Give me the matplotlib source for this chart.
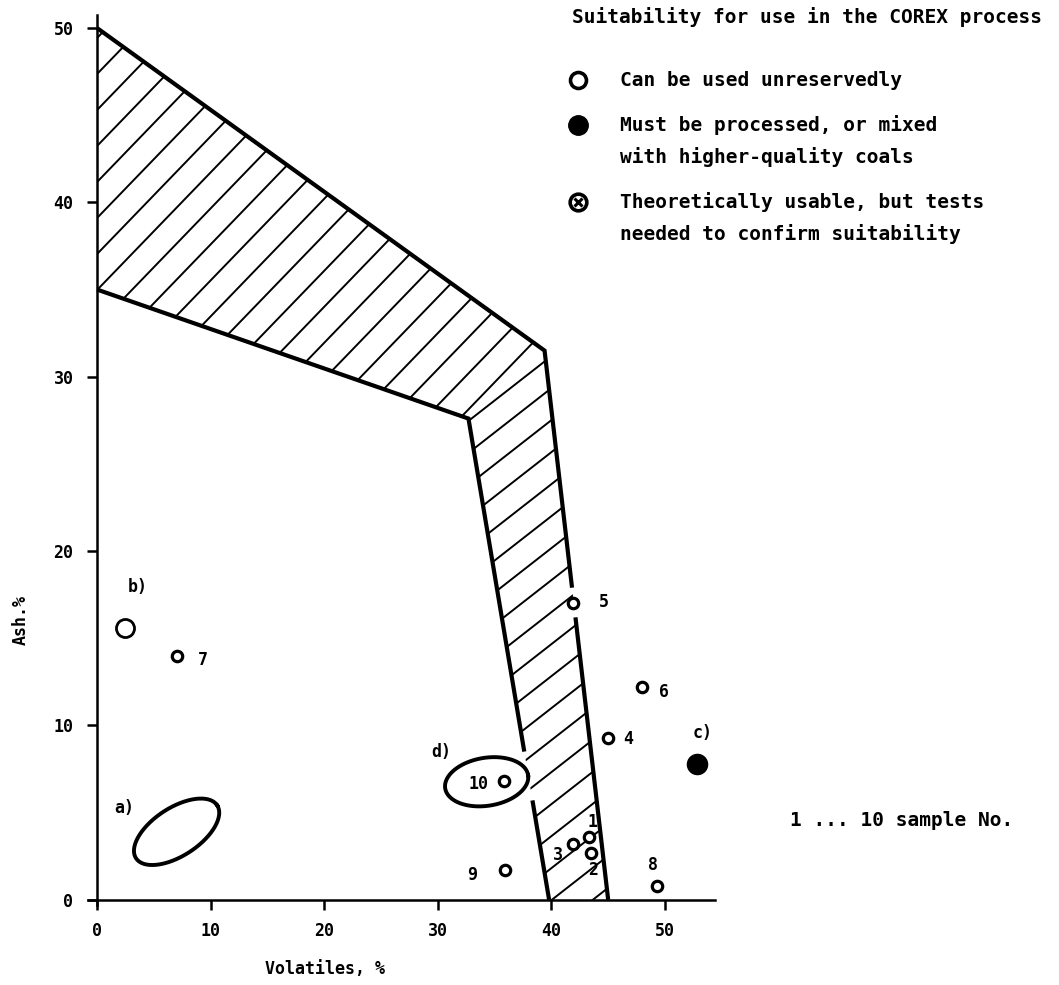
import numpy as np
import matplotlib.pyplot as plt
from matplotlib.patches import Polygon
from matplotlib.collections import LineCollection

plt.rcParams['font.family'] = ['DejaVu Sans Mono']
plt.rcParams['font.weight'] = 'bold'

# coal samples: volatiles %, ash %
sample_no = ['1', '2', '3', '4', '5', '6', '7', '8', '9', '10']
sample_vol = [43.3, 43.5, 41.9, 45.0, 41.9, 48.0, 7.0, 49.3, 35.9, 35.8]
sample_ash = [3.6, 2.7, 3.2, 9.3, 17.0, 12.2, 14.0, 0.8, 1.7, 6.8]

# coal groups
b_vol, b_ash = 2.5, 15.6      # b) usable
c_vol, c_ash = 52.8, 7.8      # c) must be processed
# ellipse regions: centre, and two conjugate semi-axes (data units)
a_centre = (7.0, 3.9)
a_u = (3.57, 1.52)
a_v = (-1.16, 1.15)
d_centre = (34.3, 6.77)
d_u = (3.65, 0.38)
d_v = (-0.33, 1.36)

# borders of the hatched zone
outer_vol = [0, 39.4, 45.0]
outer_ash = [50, 31.5, 0]
inner_vol = [0, 32.7, 39.8]
inner_ash = [35, 27.6, 0]
outer_gap = (16.2, 17.9)
inner_gap = (5.7, 8.5)

x_ticks = [0, 10, 20, 30, 40, 50]
y_ticks = [0, 10, 20, 30, 40, 50]

legend_title = 'Suitability for use in the COREX process'
legend_rows = [['Can be used unreservedly'],
               ['Must be processed, or mixed', 'with higher-quality coals'],
               ['Theoretically usable, but tests', 'needed to confirm suitability']]

fig = plt.figure(figsize=(10.59, 9.85), dpi=100)
ax = fig.add_axes([0.0831, 0.0812, 0.592, 0.9036])
ax.set_xlim(-0.8, 54.4)
ax.set_ylim(-0.3, 50.75)

ax.spines['left'].set_position(('data', 0))
ax.spines['bottom'].set_position(('data', 0))
ax.spines['top'].set_visible(False)
ax.spines['right'].set_visible(False)
for s in ['left', 'bottom']:
    ax.spines[s].set_linewidth(1.8)
ax.set_xticks(x_ticks)
ax.set_yticks(y_ticks)
ax.tick_params(axis='both', direction='out', length=7, width=1.8, labelsize=12)
ax.tick_params(axis='x', pad=9)
ax.tick_params(axis='y', pad=10)

ax.set_xlabel('Volatiles, %', fontsize=12, fontweight='bold')
ax.xaxis.set_label_coords(0.378, -0.062)
ax.set_ylabel('Ash.%', fontsize=12, fontweight='bold')
ax.yaxis.set_label_coords(-0.0925, 0.32)

bbox = ax.get_window_extent()
sx = bbox.width / (ax.get_xlim()[1] - ax.get_xlim()[0])
sy = bbox.height / (ax.get_ylim()[1] - ax.get_ylim()[0])


def hatch(vol, ash, angle, step, start):
    patch = Polygon(np.column_stack([vol, ash]), closed=True, fc='none', ec='none')
    ax.add_patch(patch)
    slope = np.tan(np.radians(angle)) * sx / sy
    dy = step / sy
    xs = np.array([-2.0, 60.0])
    segs = [np.column_stack([xs, c + slope * xs]) for c in np.arange(start - 60 * dy, 60, dy)]
    lc = LineCollection(segs, colors='black', linewidths=1.4)
    ax.add_collection(lc, autolim=False)
    lc.set_clip_path(patch)


def edge(vol, ash, gap):
    lo, hi = gap
    x_hi = np.interp(hi, [ash[-1], ash[-2]], [vol[-1], vol[-2]])
    x_lo = np.interp(lo, [ash[-1], ash[-2]], [vol[-1], vol[-2]])
    ax.plot(vol[:-1] + [x_hi], ash[:-1] + [hi], color='black', lw=3,
            solid_joinstyle='miter', solid_capstyle='butt')
    ax.plot([x_lo, vol[-1]], [lo, ash[-1]], color='black', lw=3,
            solid_capstyle='butt')


# hatched zone: upper band and the steep strip
hatch([outer_vol[0], outer_vol[1], inner_vol[1], inner_vol[0]],
      [outer_ash[0], outer_ash[1], inner_ash[1], inner_ash[0]], 46, 36, 45.3)
hatch([inner_vol[1], outer_vol[1], outer_vol[2], inner_vol[2]],
      [inner_ash[1], outer_ash[1], outer_ash[2], inner_ash[2]], 38, 32, 20.0)
edge(outer_vol, outer_ash, outer_gap)
edge(inner_vol, inner_ash, inner_gap)

# ellipses a) and d)
t = np.linspace(0, 2 * np.pi, 200)
for cen, u, v in [(a_centre, a_u, a_v), (d_centre, d_u, d_v)]:
    ax.plot(cen[0] + u[0] * np.cos(t) + v[0] * np.sin(t),
            cen[1] + u[1] * np.cos(t) + v[1] * np.sin(t), color='black', lw=2.8)

ax.plot(sample_vol, sample_ash, 'o', ms=7.5, mfc='white', mec='black', mew=2.3, ls='none', zorder=5)
ax.plot([b_vol], [b_ash], 'o', ms=13, mfc='white', mec='black', mew=2, zorder=5)
ax.plot([c_vol], [c_ash], 'o', ms=14.5, color='black', zorder=5)

offsets = {'1': (2.9, 10.8), '2': (1.4, -12.2), '3': (-10.8, -7.9), '4': (14.4, -0.7),
           '5': (22, 0.7), '6': (16, -3.6), '7': (18.7, -2.9), '8': (-2.9, 15.1),
           '9': (-23.8, -3.6), '10': (-18, -2.2)}
for n, x, y in zip(sample_no, sample_vol, sample_ash):
    ax.annotate(n, (x, y), xytext=offsets[n], textcoords='offset points',
                ha='center', va='center', fontsize=12)
ax.annotate('a)', a_centre, xytext=(-37.4, 17.3), textcoords='offset points',
            ha='center', va='center', fontsize=12)
ax.annotate('b)', (b_vol, b_ash), xytext=(8.6, 29.5), textcoords='offset points',
            ha='center', va='center', fontsize=12)
ax.annotate('c)', (c_vol, c_ash), xytext=(4.3, 22.3), textcoords='offset points',
            ha='center', va='center', fontsize=12)
ax.annotate('d)', d_centre, xytext=(-32.4, 21.6), textcoords='offset points',
            ha='center', va='center', fontsize=12)

# key on the right, in figure pixels
ax2 = fig.add_axes([0, 0, 1, 1], zorder=5)
ax2.set_xlim(0, 1059)
ax2.set_ylim(985, 0)
ax2.axis('off')
ax2.patch.set_alpha(0)

ax2.text(572, 17, legend_title, fontsize=14, ha='left', va='center')
row_y = [80, 125, 202]
ax2.plot(578, row_y[0], 'o', ms=11.5, mfc='white', mec='black', mew=2.6)
ax2.plot(578, row_y[1], 'o', ms=14, color='black')
ax2.plot(578, row_y[2], 'o', ms=12, mfc='white', mec='black', mew=2.6)
ax2.plot(578, row_y[2], 'x', ms=6, mew=2.2, color='black')
for y0, lines in zip(row_y, legend_rows):
    for k, line in enumerate(lines):
        ax2.text(620, y0 + 32 * k, line, fontsize=14, ha='left', va='center')

ax2.text(790, 820, '1 ... 10 sample No.', fontsize=14, ha='left', va='center')

plt.savefig('out.png', dpi=100)
